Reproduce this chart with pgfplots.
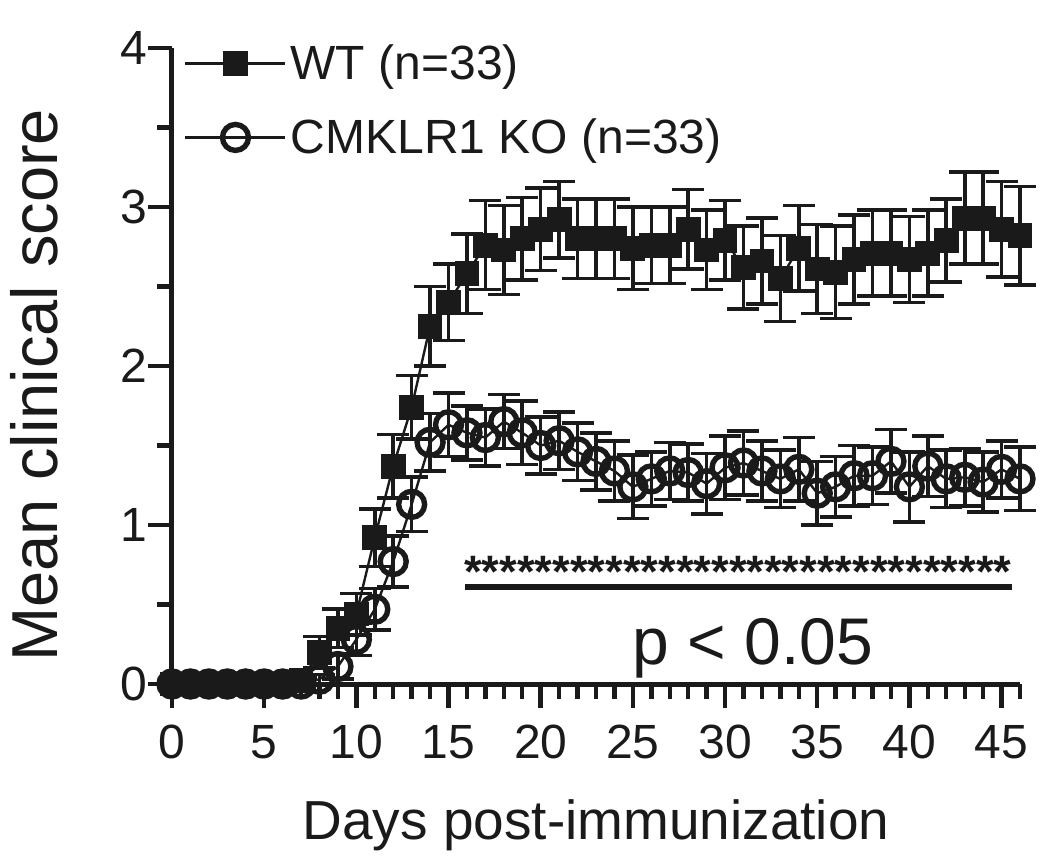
\documentclass[border=0pt]{standalone}
\usepackage{fontspec}
\setmainfont{Liberation Sans}
\usepackage{pgfplots}
\pgfplotsset{compat=1.18}
\usepackage{pgfplotstable}
\definecolor{ink}{HTML}{1A1A1A}

\pgfplotstableread{
d y e
0 0 0
1 0 0
2 0 0
3 0 0
4 0 0
5 0 0
6 0 0
7 0.02 0.02
8 0.20 0.10
9 0.35 0.12
10 0.44 0.13
11 0.92 0.18
12 1.37 0.20
13 1.74 0.20
14 2.25 0.25
15 2.40 0.24
16 2.58 0.25
17 2.76 0.28
18 2.73 0.28
19 2.80 0.26
20 2.86 0.26
21 2.92 0.24
22 2.80 0.25
23 2.80 0.25
24 2.80 0.25
25 2.74 0.26
26 2.76 0.24
27 2.76 0.24
28 2.86 0.25
29 2.73 0.25
30 2.79 0.25
31 2.62 0.26
32 2.66 0.27
33 2.55 0.27
34 2.74 0.27
35 2.61 0.28
36 2.59 0.29
37 2.67 0.28
38 2.71 0.27
39 2.71 0.27
40 2.67 0.27
41 2.71 0.27
42 2.79 0.26
43 2.93 0.29
44 2.93 0.29
45 2.86 0.30
46 2.82 0.31
}\wt

\pgfplotstableread{
d y e
0 0 0
1 0 0
2 0 0
3 0 0
4 0 0
5 0 0
6 0 0
7 0 0
8 0.03 0.03
9 0.11 0.08
10 0.28 0.10
11 0.47 0.13
12 0.77 0.16
13 1.13 0.17
14 1.52 0.18
15 1.63 0.20
16 1.58 0.17
17 1.55 0.18
18 1.65 0.17
19 1.58 0.20
20 1.50 0.18
21 1.53 0.18
22 1.46 0.18
23 1.40 0.18
24 1.34 0.19
25 1.24 0.20
26 1.29 0.17
27 1.34 0.18
28 1.33 0.18
29 1.26 0.19
30 1.36 0.20
31 1.39 0.20
32 1.34 0.19
33 1.29 0.18
34 1.35 0.20
35 1.20 0.20
36 1.24 0.19
37 1.31 0.19
38 1.31 0.18
39 1.40 0.20
40 1.24 0.22
41 1.37 0.19
42 1.29 0.18
43 1.30 0.18
44 1.27 0.19
45 1.35 0.18
46 1.29 0.20
}\ko

\begin{document}
\begin{tikzpicture}
\begin{axis}[
  scale only axis, width=424pt, height=318pt,
  xmin=0, xmax=46, ymin=0, ymax=4,
  axis x line*=bottom, axis y line*=left,
  axis line style={line width=2.5pt, ink},
  clip=false,
  xtick={0,5,...,45}, ytick={0,1,2,3,4},
  minor xtick={0,...,46}, minor ytick={0.5,1.5,2.5,3.5},
  tick align=outside,
  major tick length=12pt, minor tick length=7.5pt,
  tick style={line width=2.2pt, ink},
  /pgf/number format/assume math mode=true,
  tick label style={font=\fontsize{24}{24}\selectfont, text=ink},
  xticklabel style={yshift=-5pt},
  yticklabel style={xshift=3pt},
  xlabel={Days post-immunization}, ylabel={Mean clinical score},
  xlabel style={font=\fontsize{27.5}{27.5}\selectfont, text=ink, at={(axis description cs:0.5,-0.245)}, anchor=base},
  ylabel style={font=\fontsize{32.5}{32.5}\selectfont, text=ink, at={(axis description cs:-0.162,0.47)}, anchor=center},
  legend style={at={(axis description cs:0.014,1.012)}, anchor=north west, draw=none, fill=none,
    font=\fontsize{24}{29}\selectfont, text=ink, inner sep=0pt, row sep=14pt,
    /tikz/every even column/.append style={column sep=9pt}},
  legend cell align=left,
  legend image code/.code={\draw[mark repeat=2,mark phase=2,#1] plot coordinates {(0pt,0pt) (25pt,0pt) (50pt,0pt)};},
]
\addplot[ink, line width=1.2pt, mark=square*, mark size=5.8pt, mark options={solid, fill=ink, line width=0.8pt},
  error bars/.cd, y dir=both, y explicit,
  error bar style={line width=1.8pt, ink},
  error mark options={rotate=90, line width=1.8pt, mark size=8pt, ink}]
  table[x=d, y=y, y error=e] {\wt};
\addlegendentry{WT (n=33)}
\addplot[ink, line width=1.2pt, mark=o, mark size=6.5pt, mark options={solid, line width=2.7pt},
  error bars/.cd, y dir=both, y explicit,
  error bar style={line width=1.8pt, ink},
  error mark options={rotate=90, line width=1.8pt, mark size=8pt, ink}]
  table[x=d, y=y, y error=e] {\ko};
\addlegendentry{CMKLR1 KO (n=33)}
\addplot[ink, line width=3pt, forget plot] coordinates {(15.9,0.61) (45.55,0.61)};
\node[font=\fontsize{22.7}{22.7}\selectfont\bfseries, anchor=base, text=ink, inner sep=0pt] at (axis cs:30.7,0.61) {*******************************};
\node[font=\fontsize{33}{33}\selectfont, anchor=base, text=ink, inner sep=0pt] at (axis cs:31.5,0.12) {p < 0.05};
\end{axis}
\pgfresetboundingbox
\path[use as bounding box] (-86pt,-86.5pt) rectangle (439pt,342pt);
\end{tikzpicture}
\end{document}
